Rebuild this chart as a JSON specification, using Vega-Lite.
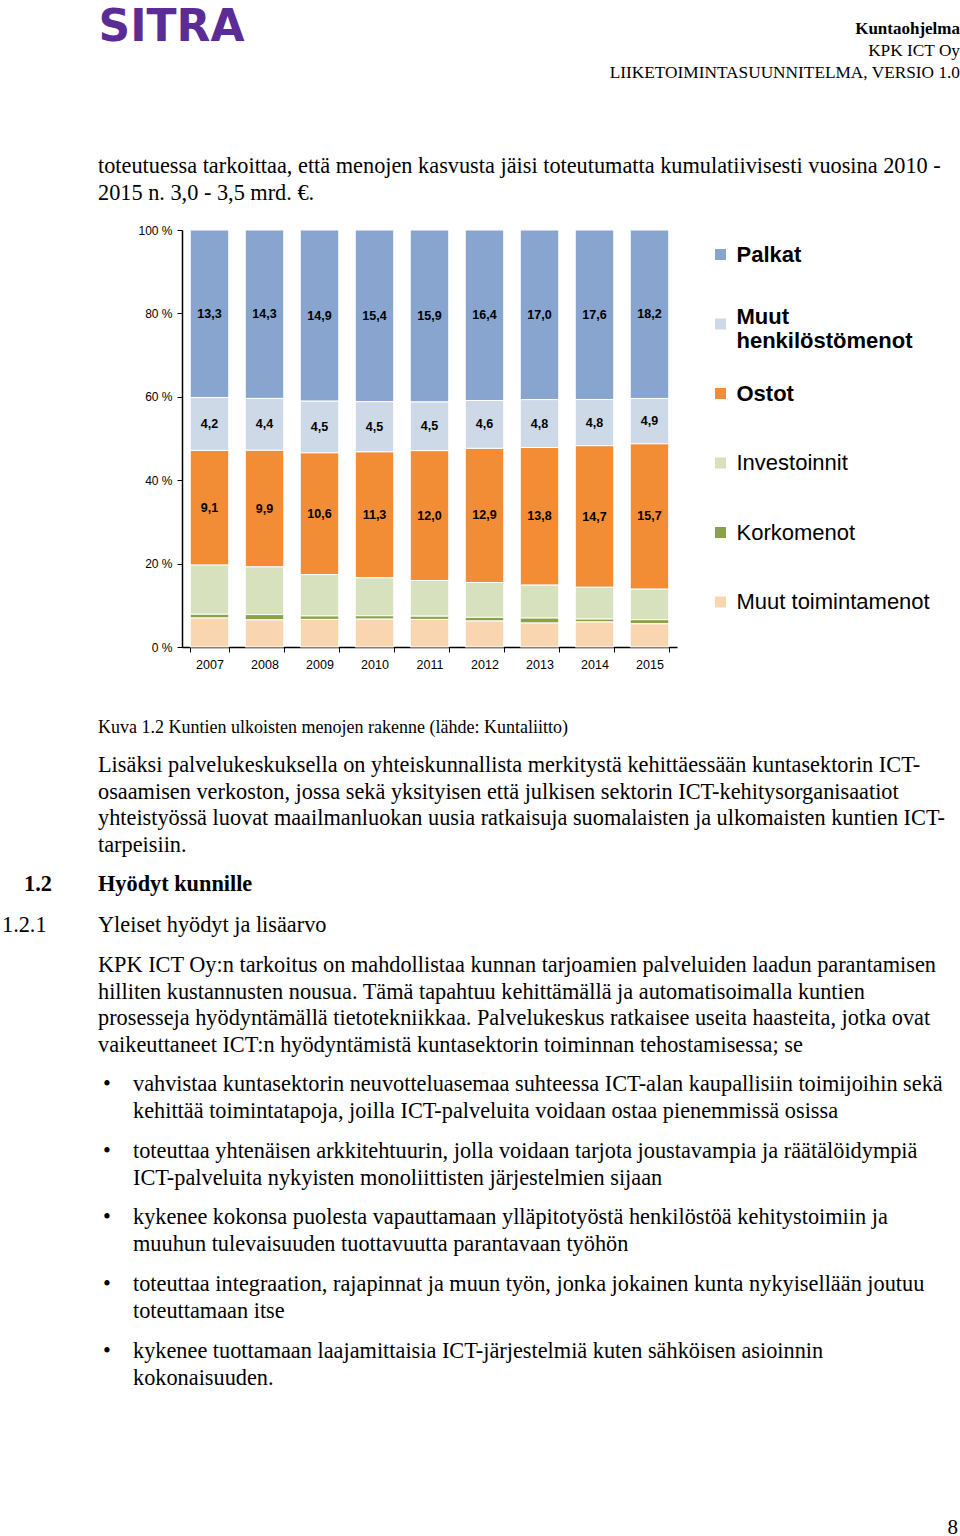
{
  "$schema": "https://vega.github.io/schema/vega-lite/v6.json",
  "padding": 0,
  "background": "white",
  "spacing": 0,
  "resolve": {"scale": {"color": "independent"}, "legend": {"color": "independent"}},
  "config": {
    "view": {"stroke": null},
    "concat": {"spacing": 0},
    "locale": {"number": {"decimal": ",", "thousands": " ", "grouping": [3], "currency": ["", " €"]}},
    "title": {"orient": "bottom", "font": "Liberation Serif", "color": "black", "anchor": "start", "frame": "group", "fontWeight": "normal", "fontSize": 22.3, "lineHeight": 26.5, "subtitleFont": "Liberation Serif", "subtitleColor": "black", "subtitleFontSize": 22.3, "subtitleLineHeight": 26.5}
  },
  "vconcat": [
    {
      "hconcat": [
        {"width": 343, "height": 55, "data": {"values": [{"name": "SITRA"}]},
         "mark": {"type": "text", "font": "DejaVu Sans", "fontSize": 44, "fontWeight": "bold", "color": "#5b2c96", "baseline": "middle", "align": "center"},
         "encoding": {"text": {"field": "name", "type": "nominal"}}},
        {"width": 617, "height": 17, "data": {"values": [{}]}, "mark": "text",
         "title": {"text": "Kuntaohjelma", "anchor": "end", "fontSize": 17, "fontWeight": "bold", "lineHeight": 22,
                   "subtitle": ["KPK ICT Oy", "LIIKETOIMINTASUUNNITELMA, VERSIO 1.0"], "subtitleFontSize": 17.3, "subtitleLineHeight": 22, "subtitlePadding": 4}}
      ]
    },
    {"width": 960, "height": 69, "data": {"values": [{}]}, "mark": "text",
     "title": {"text": ["toteutuessa tarkoittaa, että menojen kasvusta jäisi toteutumatta kumulatiivisesti vuosina 2010 -", "2015 n. 3,0 - 3,5 mrd. €."], "dx": 98}},
    {"width": 1, "height": 20, "data": {"values": [{}]}, "mark": "text"},
    {
      "resolve": {"scale": {"color": "independent"}, "legend": {"color": "independent"}},
      "hconcat": [
        {"width": 137, "height": 465, "data": {"values": [{}]}, "mark": "text"},
        {
          "width": 495,
          "height": 417,
          "data": {"values": [
            {"year": "2007", "cat": "Palkat", "k": 1, "v": 13.3},
            {"year": "2007", "cat": "Muut henkilöstömenot", "k": 2, "v": 4.2},
            {"year": "2007", "cat": "Ostot", "k": 3, "v": 9.1},
            {"year": "2007", "cat": "Investoinnit", "k": 4, "v": 3.9},
            {"year": "2007", "cat": "Korkomenot", "k": 5, "v": 0.3},
            {"year": "2007", "cat": "Muut toimintamenot", "k": 6, "v": 2.3},
            {"year": "2008", "cat": "Palkat", "k": 1, "v": 14.3},
            {"year": "2008", "cat": "Muut henkilöstömenot", "k": 2, "v": 4.4},
            {"year": "2008", "cat": "Ostot", "k": 3, "v": 9.9},
            {"year": "2008", "cat": "Investoinnit", "k": 4, "v": 4.05},
            {"year": "2008", "cat": "Korkomenot", "k": 5, "v": 0.45},
            {"year": "2008", "cat": "Muut toimintamenot", "k": 6, "v": 2.3},
            {"year": "2009", "cat": "Palkat", "k": 1, "v": 14.9},
            {"year": "2009", "cat": "Muut henkilöstömenot", "k": 2, "v": 4.5},
            {"year": "2009", "cat": "Ostot", "k": 3, "v": 10.6},
            {"year": "2009", "cat": "Investoinnit", "k": 4, "v": 3.6},
            {"year": "2009", "cat": "Korkomenot", "k": 5, "v": 0.3},
            {"year": "2009", "cat": "Muut toimintamenot", "k": 6, "v": 2.4},
            {"year": "2010", "cat": "Palkat", "k": 1, "v": 15.4},
            {"year": "2010", "cat": "Muut henkilöstömenot", "k": 2, "v": 4.5},
            {"year": "2010", "cat": "Ostot", "k": 3, "v": 11.3},
            {"year": "2010", "cat": "Investoinnit", "k": 4, "v": 3.4},
            {"year": "2010", "cat": "Korkomenot", "k": 5, "v": 0.3},
            {"year": "2010", "cat": "Muut toimintamenot", "k": 6, "v": 2.5},
            {"year": "2011", "cat": "Palkat", "k": 1, "v": 15.9},
            {"year": "2011", "cat": "Muut henkilöstömenot", "k": 2, "v": 4.5},
            {"year": "2011", "cat": "Ostot", "k": 3, "v": 12.0},
            {"year": "2011", "cat": "Investoinnit", "k": 4, "v": 3.3},
            {"year": "2011", "cat": "Korkomenot", "k": 5, "v": 0.3},
            {"year": "2011", "cat": "Muut toimintamenot", "k": 6, "v": 2.55},
            {"year": "2012", "cat": "Palkat", "k": 1, "v": 16.4},
            {"year": "2012", "cat": "Muut henkilöstömenot", "k": 2, "v": 4.6},
            {"year": "2012", "cat": "Ostot", "k": 3, "v": 12.9},
            {"year": "2012", "cat": "Investoinnit", "k": 4, "v": 3.35},
            {"year": "2012", "cat": "Korkomenot", "k": 5, "v": 0.35},
            {"year": "2012", "cat": "Muut toimintamenot", "k": 6, "v": 2.5},
            {"year": "2013", "cat": "Palkat", "k": 1, "v": 17.0},
            {"year": "2013", "cat": "Muut henkilöstömenot", "k": 2, "v": 4.8},
            {"year": "2013", "cat": "Ostot", "k": 3, "v": 13.8},
            {"year": "2013", "cat": "Investoinnit", "k": 4, "v": 3.3},
            {"year": "2013", "cat": "Korkomenot", "k": 5, "v": 0.5},
            {"year": "2013", "cat": "Muut toimintamenot", "k": 6, "v": 2.4},
            {"year": "2014", "cat": "Palkat", "k": 1, "v": 17.6},
            {"year": "2014", "cat": "Muut henkilöstömenot", "k": 2, "v": 4.8},
            {"year": "2014", "cat": "Ostot", "k": 3, "v": 14.7},
            {"year": "2014", "cat": "Investoinnit", "k": 4, "v": 3.3},
            {"year": "2014", "cat": "Korkomenot", "k": 5, "v": 0.3},
            {"year": "2014", "cat": "Muut toimintamenot", "k": 6, "v": 2.6},
            {"year": "2015", "cat": "Palkat", "k": 1, "v": 18.2},
            {"year": "2015", "cat": "Muut henkilöstömenot", "k": 2, "v": 4.9},
            {"year": "2015", "cat": "Ostot", "k": 3, "v": 15.7},
            {"year": "2015", "cat": "Investoinnit", "k": 4, "v": 3.3},
            {"year": "2015", "cat": "Korkomenot", "k": 5, "v": 0.45},
            {"year": "2015", "cat": "Muut toimintamenot", "k": 6, "v": 2.5}
          ]},
          "encoding": {
            "x": {"field": "year", "type": "ordinal",
                  "scale": {"paddingInner": 0.3, "paddingOuter": 0.15},
                  "axis": {"title": null, "labelAngle": 0, "tickBand": "extent", "domainColor": "black", "domainWidth": 1.5, "tickColor": "black", "tickSize": 5, "labelFont": "Liberation Sans", "labelFontSize": 12.5, "labelColor": "black", "labelPadding": 6}},
            "y": {"field": "v", "type": "quantitative", "stack": "normalize",
                  "axis": {"title": null, "values": [0, 0.2, 0.4, 0.6, 0.8, 1], "labelExpr": "round(datum.value * 100) + ' %'", "grid": false, "domainColor": "black", "domainWidth": 1.5, "tickColor": "black", "tickSize": 5, "labelFont": "Liberation Sans", "labelFontSize": 12, "labelColor": "black", "labelPadding": 5}},
            "order": {"field": "k", "type": "quantitative", "sort": "descending"},
            "detail": {"field": "cat", "type": "nominal"}
          },
          "layer": [
            {
              "mark": {"type": "bar", "stroke": "white", "strokeWidth": 1},
              "encoding": {
                "color": {"field": "cat", "type": "nominal",
                  "scale": {"domain": ["Palkat", "Muut henkilöstömenot", "Ostot", "Investoinnit", "Korkomenot", "Muut toimintamenot"],
                            "range": ["#87a5cf", "#cdd9e7", "#f28d35", "#d7e1bd", "#8aa14a", "#f9d6b0"]},
                  "legend": {"title": null, "orient": "right", "offset": 18.5, "padding": 13.5, "symbolType": "square", "symbolSize": 121, "symbolStrokeWidth": 0, "symbolOpacity": 1,
                             "labelFont": "Liberation Sans", "labelFontSize": 22, "labelColor": "black", "labelOffset": 5, "labelLimit": 400,
                             "gridAlign": "all", "rowPadding": 23.5,
                             "labelBaseline": {"expr": "datum.value == 'Muut henkilöstömenot' ? 'alphabetic' : 'middle'"},
                             "labelFontWeight": {"expr": "indexof(['Palkat', 'Muut henkilöstömenot', 'Ostot'], datum.value) >= 0 ? 'bold' : 'normal'"},
                             "labelExpr": "datum.label == 'Muut henkilöstömenot' ? ['Muut', 'henkilöstömenot'] : datum.label",
                             "encode": {"labels": {"lineHeight": {"value": 26}}}}
                }
              }
            },
            {
              "mark": {"type": "text", "font": "Liberation Sans", "fontSize": 12.5, "fontWeight": "bold", "color": "black"},
              "encoding": {
                "y": {"field": "v", "type": "quantitative", "stack": "normalize", "bandPosition": 0.5},
                "text": {"condition": {"test": "datum.k <= 3", "field": "v", "type": "quantitative", "format": ".1f"}, "value": ""}
              }
            }
          ]
        }
      ]
    },
    {"width": 960, "height": 0, "data": {"values": [{}]}, "mark": "text",
     "title": {"text": "Kuva 1.2 Kuntien ulkoisten menojen rakenne (lähde: Kuntaliitto)", "dx": 98, "fontSize": 18,
               "subtitle": ["Lisäksi palvelukeskuksella on yhteiskunnallista merkitystä kehittäessään kuntasektorin ICT-", "osaamisen verkoston, jossa sekä yksityisen että julkisen sektorin ICT-kehitysorganisaatiot", "yhteistyössä luovat maailmanluokan uusia ratkaisuja suomalaisten ja ulkomaisten kuntien ICT-", "tarpeisiin."],
               "subtitlePadding": 17}},
    {
      "hconcat": [
        {"width": 98, "height": 13, "data": {"values": [{}]}, "mark": "text",
         "title": {"text": "1.2", "dx": 24, "fontWeight": "bold"}},
        {"width": 862, "height": 13, "data": {"values": [{}]}, "mark": "text",
         "title": {"text": "Hyödyt kunnille", "fontWeight": "bold"}}
      ]
    },
    {
      "hconcat": [
        {"width": 98, "height": 14, "data": {"values": [{}]}, "mark": "text",
         "title": {"text": "1.2.1", "dx": 2}},
        {"width": 862, "height": 14, "data": {"values": [{}]}, "mark": "text",
         "title": {"text": "Yleiset hyödyt ja lisäarvo",
                   "subtitle": ["KPK ICT Oy:n tarkoitus on mahdollistaa kunnan tarjoamien palveluiden laadun parantamisen", "hilliten kustannusten nousua. Tämä tapahtuu kehittämällä ja automatisoimalla kuntien", "prosesseja hyödyntämällä tietotekniikkaa. Palvelukeskus ratkaisee useita haasteita, jotka ovat", "vaikeuttaneet ICT:n hyödyntämistä kuntasektorin toiminnan tehostamisessa; se"],
                   "subtitlePadding": 17.7}}
      ]
    },
    {
      "hconcat": [
        {"width": 133, "height": 13, "data": {"values": [{}]}, "mark": "text", "title": {"text": "•", "dx": 103}},
        {"width": 827, "height": 13, "data": {"values": [{}]}, "mark": "text",
         "title": {"text": ["vahvistaa kuntasektorin neuvotteluasemaa suhteessa ICT-alan kaupallisiin toimijoihin sekä", "kehittää toimintatapoja, joilla ICT-palveluita voidaan ostaa pienemmissä osissa"]}}
      ]
    },
    {
      "hconcat": [
        {"width": 133, "height": 14, "data": {"values": [{}]}, "mark": "text", "title": {"text": "•", "dx": 103}},
        {"width": 827, "height": 14, "data": {"values": [{}]}, "mark": "text",
         "title": {"text": ["toteuttaa yhtenäisen arkkitehtuurin, jolla voidaan tarjota joustavampia ja räätälöidympiä", "ICT-palveluita nykyisten monoliittisten järjestelmien sijaan"]}}
      ]
    },
    {
      "hconcat": [
        {"width": 133, "height": 13, "data": {"values": [{}]}, "mark": "text", "title": {"text": "•", "dx": 103}},
        {"width": 827, "height": 13, "data": {"values": [{}]}, "mark": "text",
         "title": {"text": ["kykenee kokonsa puolesta vapauttamaan ylläpitotyöstä henkilöstöä kehitystoimiin ja", "muuhun tulevaisuuden tuottavuutta parantavaan työhön"]}}
      ]
    },
    {
      "hconcat": [
        {"width": 133, "height": 14, "data": {"values": [{}]}, "mark": "text", "title": {"text": "•", "dx": 103}},
        {"width": 827, "height": 14, "data": {"values": [{}]}, "mark": "text",
         "title": {"text": ["toteuttaa integraation, rajapinnat ja muun työn, jonka jokainen kunta nykyisellään joutuu", "toteuttamaan itse"]}}
      ]
    },
    {
      "hconcat": [
        {"width": 133, "height": 14, "data": {"values": [{}]}, "mark": "text", "title": {"text": "•", "dx": 103}},
        {"width": 827, "height": 14, "data": {"values": [{}]}, "mark": "text",
         "title": {"text": ["kykenee tuottamaan laajamittaisia ICT-järjestelmiä kuten sähköisen asioinnin", "kokonaisuuden."]}}
      ]
    },
    {"width": 960, "height": 124, "data": {"values": [{}]}, "mark": "text",
     "title": {"text": "8", "anchor": "end", "dx": -2, "fontSize": 21}}
  ]
}
